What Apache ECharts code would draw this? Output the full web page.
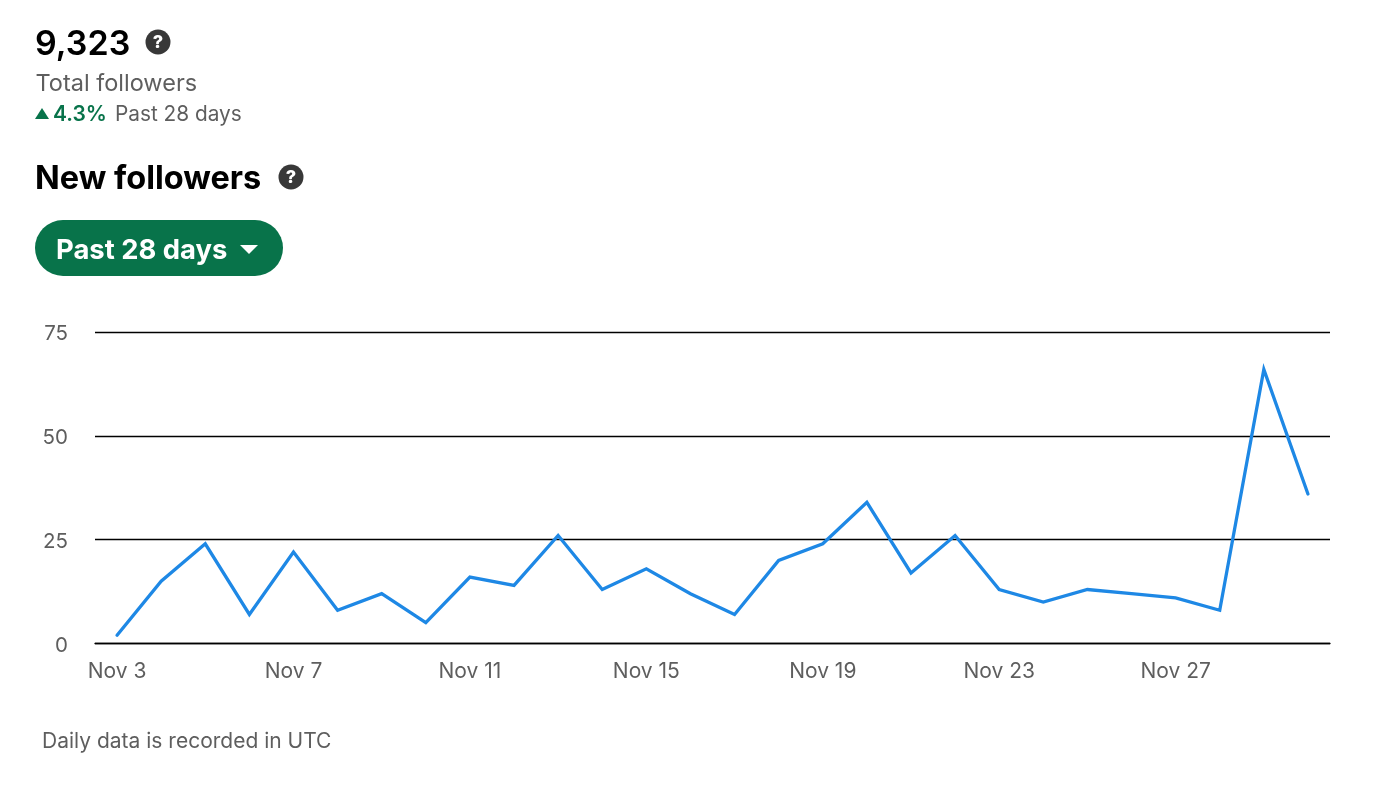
<!DOCTYPE html>
<html><head><meta charset="utf-8">
<style>html,body{margin:0;padding:0;background:#fff}#c{width:1400px;height:791px}</style>
<script src="https://cdn.jsdelivr.net/npm/echarts@6/dist/echarts.min.js"></script>
</head><body><div id="c"></div>
<script>
const categories = ['Nov 3','Nov 4','Nov 5','Nov 6','Nov 7','Nov 8','Nov 9','Nov 10','Nov 11','Nov 12','Nov 13','Nov 14','Nov 15','Nov 16','Nov 17','Nov 18','Nov 19','Nov 20','Nov 21','Nov 22','Nov 23','Nov 24','Nov 25','Nov 26','Nov 27','Nov 28','Nov 29','Nov 30'];
const newFollowers = [2,15,24,7,22,8,12,5,16,14,26,13,18,12,7,20,24,34,17,26,13,10,13,12,11,8,66,36];
const yTicks = [0,25,50,75];
const F = 'Inter, Roboto, sans-serif';
const GREY = '#5e5e5e';
function help(x,y){return [
  {type:'circle',shape:{cx:x,cy:y,r:12.5},style:{fill:'#383838'}},
  {type:'text',style:{x:x,y:y+0.5,text:'?',fill:'#fff',font:'800 18px '+F,align:'center',verticalAlign:'middle'}}
];}
const chart = echarts.init(document.getElementById('c'),null,{renderer:'canvas'});
chart.setOption({
  animation:false,
  backgroundColor:'#fff',
  grid:{left:95,right:70,top:332,height:311.5,containLabel:false},
  xAxis:{type:'category',data:categories,boundaryGap:true,
    axisLine:{show:true,lineStyle:{color:'#000',width:1.3}},axisTick:{show:false},
    axisLabel:{interval:(i)=>i%4===0,color:GREY,fontFamily:F,fontSize:21,margin:18}},
  yAxis:{type:'value',min:0,max:75,interval:25,
    axisLine:{show:false},axisTick:{show:false},
    splitLine:{show:true,lineStyle:{color:'#000',width:1.3}},
    axisLabel:{color:GREY,fontFamily:F,fontSize:20.5,margin:27,verticalAlign:'middle',
      formatter:v=>yTicks.includes(v)?'{n|'+v+'}':'',
      rich:{n:{color:GREY,fontFamily:F,fontSize:20.5,padding:[4,0,0,0]}}}},
  series:[{type:'line',data:newFollowers,smooth:false,showSymbol:false,symbol:'none',z:5,
    lineStyle:{color:'#1e88e5',width:3.3,join:'miter',cap:'round'}}],
  graphic:[
    {type:'text',style:{x:35,y:45,text:'9,323',fill:'#000',font:'600 34px '+F,verticalAlign:'middle'}},
    ...help(158,42),
    {type:'text',style:{x:35.5,y:84,text:'Total followers',fill:GREY,font:'400 23.5px '+F,verticalAlign:'middle'}},
    {type:'polygon',shape:{points:[[35,119],[49,119],[42,108]]},style:{fill:'#08734a'}},
    {type:'text',style:{x:53,y:115,text:'4.3%',fill:'#08734a',font:'600 21px '+F,verticalAlign:'middle'}},
    {type:'text',style:{x:115,y:115,text:'Past 28 days',fill:GREY,font:'400 20.8px '+F,verticalAlign:'middle'}},
    {type:'text',style:{x:35,y:179,text:'New followers',fill:'#000',font:'700 32.5px '+F,verticalAlign:'middle'}},
    ...help(291,177),
    {type:'rect',shape:{x:35,y:220,width:248,height:56,r:28},style:{fill:'#08734a'}},
    {type:'text',style:{x:56,y:251,text:'Past 28 days',fill:'#fff',font:'700 27.4px '+F,verticalAlign:'middle'}},
    {type:'polygon',shape:{points:[[240,245],[258,245],[249,254]]},style:{fill:'#fff'}},
    {type:'text',style:{x:42,y:742,text:'Daily data is recorded in UTC',fill:GREY,font:'400 21px '+F,verticalAlign:'middle'}}
  ]
});
</script></body></html>
